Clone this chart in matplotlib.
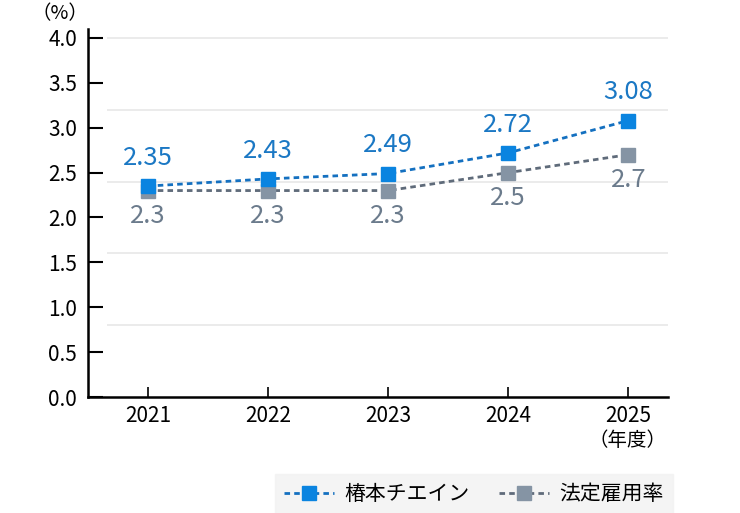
import matplotlib
matplotlib.use("Agg")
import matplotlib.pyplot as plt
import numpy as np

plt.rcParams['font.family'] = ['Noto Sans CJK JP', 'DejaVu Sans']

years = ["2021", "2022", "2023", "2024", "2025"]
tsubaki = [2.35, 2.43, 2.49, 2.72, 3.08]
legal = [2.3, 2.3, 2.3, 2.5, 2.7]
series_names = ["椿本チエイン", "法定雇用率"]

blue_line = "#1470c0"
blue_mark = "#0a84e0"
blue_text = "#1b78c4"
gray_line = "#5f6b7a"
gray_mark = "#8594a4"
gray_text = "#6b7b8c"

fig = plt.figure(figsize=(7.4, 5.13), dpi=100)
W, H = 740, 513
ax = fig.add_axes([88 / W, 1 - 397 / H, (668 - 88) / W, (397 - 29) / H])

x = np.arange(len(years))

# grid lines every 0.8, not reaching the spine
for g in [0.8, 1.6, 2.4, 3.2, 4.0]:
    ax.hlines(g, -0.34, 4.33, color="#e8e8e8", lw=1.2, zorder=0)

ax.plot(x, legal, linestyle=(0, (2, 1.5)), color=gray_line, lw=2,
        marker="s", markersize=10.5, markerfacecolor=gray_mark,
        markeredgecolor=gray_mark, zorder=2, label=series_names[1])
ax.plot(x, tsubaki, linestyle=(0, (2, 1.5)), color=blue_line, lw=2,
        marker="s", markersize=10.5, markerfacecolor=blue_mark,
        markeredgecolor=blue_mark, zorder=3, label=series_names[0])

for xi, v in zip(x, tsubaki):
    ax.annotate(f"{v:.2f}", (xi, v), xytext=(0, 11), textcoords="offset points",
                ha="center", va="bottom", color=blue_text, fontsize=18.5)
for xi, v in zip(x, legal):
    ax.annotate(f"{v:.1f}", (xi, v), xytext=(0, -9), textcoords="offset points",
                ha="center", va="top", color=gray_text, fontsize=18.5)

ax.set_xlim(-0.5, 4.33)
ax.set_ylim(0, 4.1)
ax.set_yticks(np.arange(0, 4.01, 0.5))
ax.set_yticklabels([f"{t:.1f}" for t in np.arange(0, 4.01, 0.5)])
ax.set_xticks(x)
ax.set_xticklabels(years)
ax.tick_params(axis="y", direction="in", length=11, width=1.5, labelsize=15, pad=8)
ax.tick_params(axis="x", direction="in", length=7, width=1.2, labelsize=15, pad=6)
for s in ["top", "right"]:
    ax.spines[s].set_visible(False)
for s in ["left", "bottom"]:
    ax.spines[s].set_linewidth(1.8)

fig.text(60 / W, 1 - 14 / H, "（%）", ha="center", va="center", fontsize=14)
fig.text(628 / W, 1 - 441 / H, "（年度）", ha="center", va="center", fontsize=14)

handles, labels = ax.get_legend_handles_labels()
leg = fig.legend(handles[::-1], labels[::-1], loc="center",
                 bbox_to_anchor=(474 / W, 1 - 494 / H), ncol=2, frameon=True,
                 fontsize=15, handlelength=2.4, columnspacing=1.4,
                 borderpad=0.45, handletextpad=0.5)
leg.get_frame().set_facecolor("#f2f2f2")
leg.get_frame().set_edgecolor("#f2f2f2")
leg.get_frame().set_boxstyle("square", pad=0)
for h in leg.legend_handles:
    h.set_markersize(10)

fig.savefig("out.png", dpi=100)
